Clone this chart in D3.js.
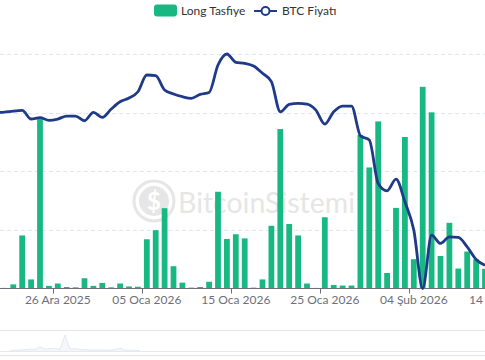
<!DOCTYPE html>
<html><head><meta charset="utf-8">
<script src="https://cdn.jsdelivr.net/npm/d3@7"></script>
<style>
body{margin:0;background:#fff;overflow:hidden}
svg{display:block}
text{font-family:Lato,"Noto Sans",sans-serif}
</style>
</head><body>
<svg id="c" width="485" height="360"></svg>
<script>
const categories = [
 "19 Ara 2025","20 Ara 2025","21 Ara 2025","22 Ara 2025","23 Ara 2025","24 Ara 2025","25 Ara 2025",
 "26 Ara 2025","27 Ara 2025","28 Ara 2025","29 Ara 2025","30 Ara 2025","31 Ara 2025",
 "01 Oca 2026","02 Oca 2026","03 Oca 2026","04 Oca 2026","05 Oca 2026","06 Oca 2026","07 Oca 2026",
 "08 Oca 2026","09 Oca 2026","10 Oca 2026","11 Oca 2026","12 Oca 2026","13 Oca 2026","14 Oca 2026",
 "15 Oca 2026","16 Oca 2026","17 Oca 2026","18 Oca 2026","19 Oca 2026","20 Oca 2026","21 Oca 2026",
 "22 Oca 2026","23 Oca 2026","24 Oca 2026","25 Oca 2026","26 Oca 2026","27 Oca 2026","28 Oca 2026",
 "29 Oca 2026","30 Oca 2026","31 Oca 2026","01 Şub 2026","02 Şub 2026","03 Şub 2026","04 Şub 2026",
 "05 Şub 2026","06 Şub 2026","07 Şub 2026","08 Şub 2026","09 Şub 2026","10 Şub 2026","11 Şub 2026",
 "12 Şub 2026","13 Şub 2026","14 Şub 2026"
];
// Long liquidations (million USD, estimated)
const longValues = [
 null, 0.2, 1.4, 18.1, 3.1, 57.8, 0.9,
 1.7, 0.5, 0.4, 3.5, 0.9, 1.9,
 0.4, 1.7, 0.7, 0.6, 16.8, 19.9, 27.4,
 7.6, 2.0, 0.3, 0.5, 2.3, 33.0, 16.9,
 18.5, 17.1, 0.3, 3.1, 21.4, 54.4, 22.0,
 18.1, 1.7, 0.2, 24.3, 1.2, 1.0, 1.0,
 52.4, 41.3, 57.0, 5.3, 27.5, 51.7, 10.0,
 68.8, 60.1, 11.1, 22.4, 6.8, 12.6, 9.9,
 6.7, null, null
];
// BTC price (USD, estimated)
const btcPrices = [
 88400, 88510, 88650, 88760, 87490, 87680, 87300,
 87490, 87925, 87925, 87240, 88470, 87730,
 88950, 90020, 90560, 91480, 93930, 93820, 91730,
 91150, 90750, 90520, 91100, 91370, 95390, 97000,
 95790, 95640, 95245, 94180, 92950, 88550, 89640,
 89780, 89680, 88800, 86750, 88550, 89390, 89390,
 85040, 84410, 78070, 76990, 78700, 75380, 71235,
 62700, 70500, 69290, 70250, 70170, 68790, 66950,
 66110, null, null
];
const longTicks = [0, 20, 40, 60, 80];
const priceRange = [62700, 97000];
const tickLabels = ["26 Ara 2025","05 Oca 2026","15 Oca 2026","25 Oca 2026","04 Şub 2026","14 Şub 2026"];
const legendItems = ["Long Tasfiye", "BTC Fiyatı"];
const sliderShadow = [0,0.3,0.5,0.8,1.5,1,4,1.5,2,2.5,1,16,1.5,2,1,1,0.5,0.6,0.4,0.5,0.3,1,2.5,0.3,0.3,0.2,0];

const barColor = "#17b882", lineColor = "#1f3a88";
const svg = d3.select("#c");

const x = d3.scaleBand().domain(categories).range([-8.95, 507.25]).padding(0);
const yL = d3.scaleLinear().domain([0, 80]).range([288.5, 54]);
const yP = d3.scaleLinear().domain(priceRange).range([288.5, 54]);

// grid
svg.append("g").selectAll("line").data(longTicks.filter(t => t > 0)).join("line")
  .attr("x1", 0).attr("x2", 485)
  .attr("y1", d => Math.round(yL(d)) + 0.5).attr("y2", d => Math.round(yL(d)) + 0.5)
  .attr("stroke", "#e0e6f1").attr("stroke-dasharray", "4 3");

// watermark
const wm = svg.append("g").attr("transform", "translate(154,201)");
wm.append("circle").attr("r", 20).attr("fill", "none").attr("stroke", "#e6e6e6").attr("stroke-width", 3);
wm.append("circle").attr("r", 15).attr("fill", "#e6e6e6");
wm.append("text").attr("text-anchor", "middle").attr("dy", "0.36em")
  .attr("font-size", 24).attr("font-weight", 700).attr("fill", "#fff").text("$");
svg.append("text").attr("x", 178).attr("y", 213).attr("font-size", 28.5)
  .attr("fill", "#e6e6e6").text("BitcoinSistemi");

// bars
const bw = x.bandwidth() * 0.65;
svg.append("g").selectAll("rect")
  .data(categories.map((c, i) => ({c, v: longValues[i]})).filter(d => d.v != null))
  .join("rect")
  .attr("x", d => x(d.c) + (x.bandwidth() - bw) / 2)
  .attr("width", bw)
  .attr("y", d => yL(d.v))
  .attr("height", d => yL(0) - yL(d.v))
  .attr("fill", barColor);

// x axis
svg.append("line").attr("x1", 0).attr("x2", 485).attr("y1", 288.5).attr("y2", 288.5)
  .attr("stroke", "#6e7079");
svg.append("g").selectAll("line").data(tickLabels).join("line")
  .attr("x1", d => Math.round(x(d)) + 0.5).attr("x2", d => Math.round(x(d)) + 0.5)
  .attr("y1", 288.5).attr("y2", 293.5).attr("stroke", "#6e7079");
const ax = svg.append("g").attr("transform", "translate(0,288.5)")
  .call(d3.axisBottom(x).tickValues(tickLabels).tickSize(0).tickPadding(7));
ax.select(".domain").remove();
ax.selectAll("text").attr("font-size", 12).attr("fill", "#6e7079")
  .attr("font-family", "Lato, 'Noto Sans', sans-serif");

// price line
const line = d3.line()
  .defined(d => d != null)
  .x((d, i) => x(categories[i]) + x.bandwidth() / 2)
  .y(d => yP(d))
  .curve(d3.curveMonotoneX);
svg.append("path").attr("d", line(btcPrices)).attr("fill", "none")
  .attr("stroke", lineColor).attr("stroke-width", 2.8).attr("stroke-linejoin", "round");

// legend
const lg = svg.append("g");
lg.append("rect").attr("x", 154).attr("y", 4.5).attr("width", 23).attr("height", 12).attr("rx", 3).attr("fill", barColor);
lg.append("text").attr("x", 181).attr("y", 14.5).attr("font-size", 12).attr("fill", "#333").text(legendItems[0]);
lg.append("line").attr("x1", 254).attr("x2", 277).attr("y1", 11).attr("y2", 11).attr("stroke", lineColor).attr("stroke-width", 2);
lg.append("circle").attr("cx", 265.5).attr("cy", 11).attr("r", 4).attr("fill", "#fff").attr("stroke", lineColor).attr("stroke-width", 2);
lg.append("text").attr("x", 282).attr("y", 14.5).attr("font-size", 12).attr("fill", "#333").text(legendItems[1]);

// data zoom slider
const sl = svg.append("g");
sl.append("rect").attr("x", -2).attr("y", 330.5).attr("width", 500).attr("height", 25)
  .attr("fill", "none").attr("stroke", "#e3e6ee");
sl.append("line").attr("x1", 0).attr("x2", 485).attr("y1", 351.5).attr("y2", 351.5).attr("stroke", "#e6e9f0");
const sx = d3.scaleLinear().domain([0, sliderShadow.length - 1]).range([10, 140]);
const sy = d3.scaleLinear().domain([0, 16]).range([350.5, 335]);
sl.append("path").attr("d", d3.area().x((d, i) => sx(i)).y0(351).y1(d => sy(d))(sliderShadow))
  .attr("fill", "#f4f6fa");
sl.append("path").attr("d", d3.line().x((d, i) => sx(i)).y(d => sy(d))(sliderShadow))
  .attr("fill", "none").attr("stroke", "#dfe3ec").attr("stroke-width", 0.8);
</script>
</body></html>
